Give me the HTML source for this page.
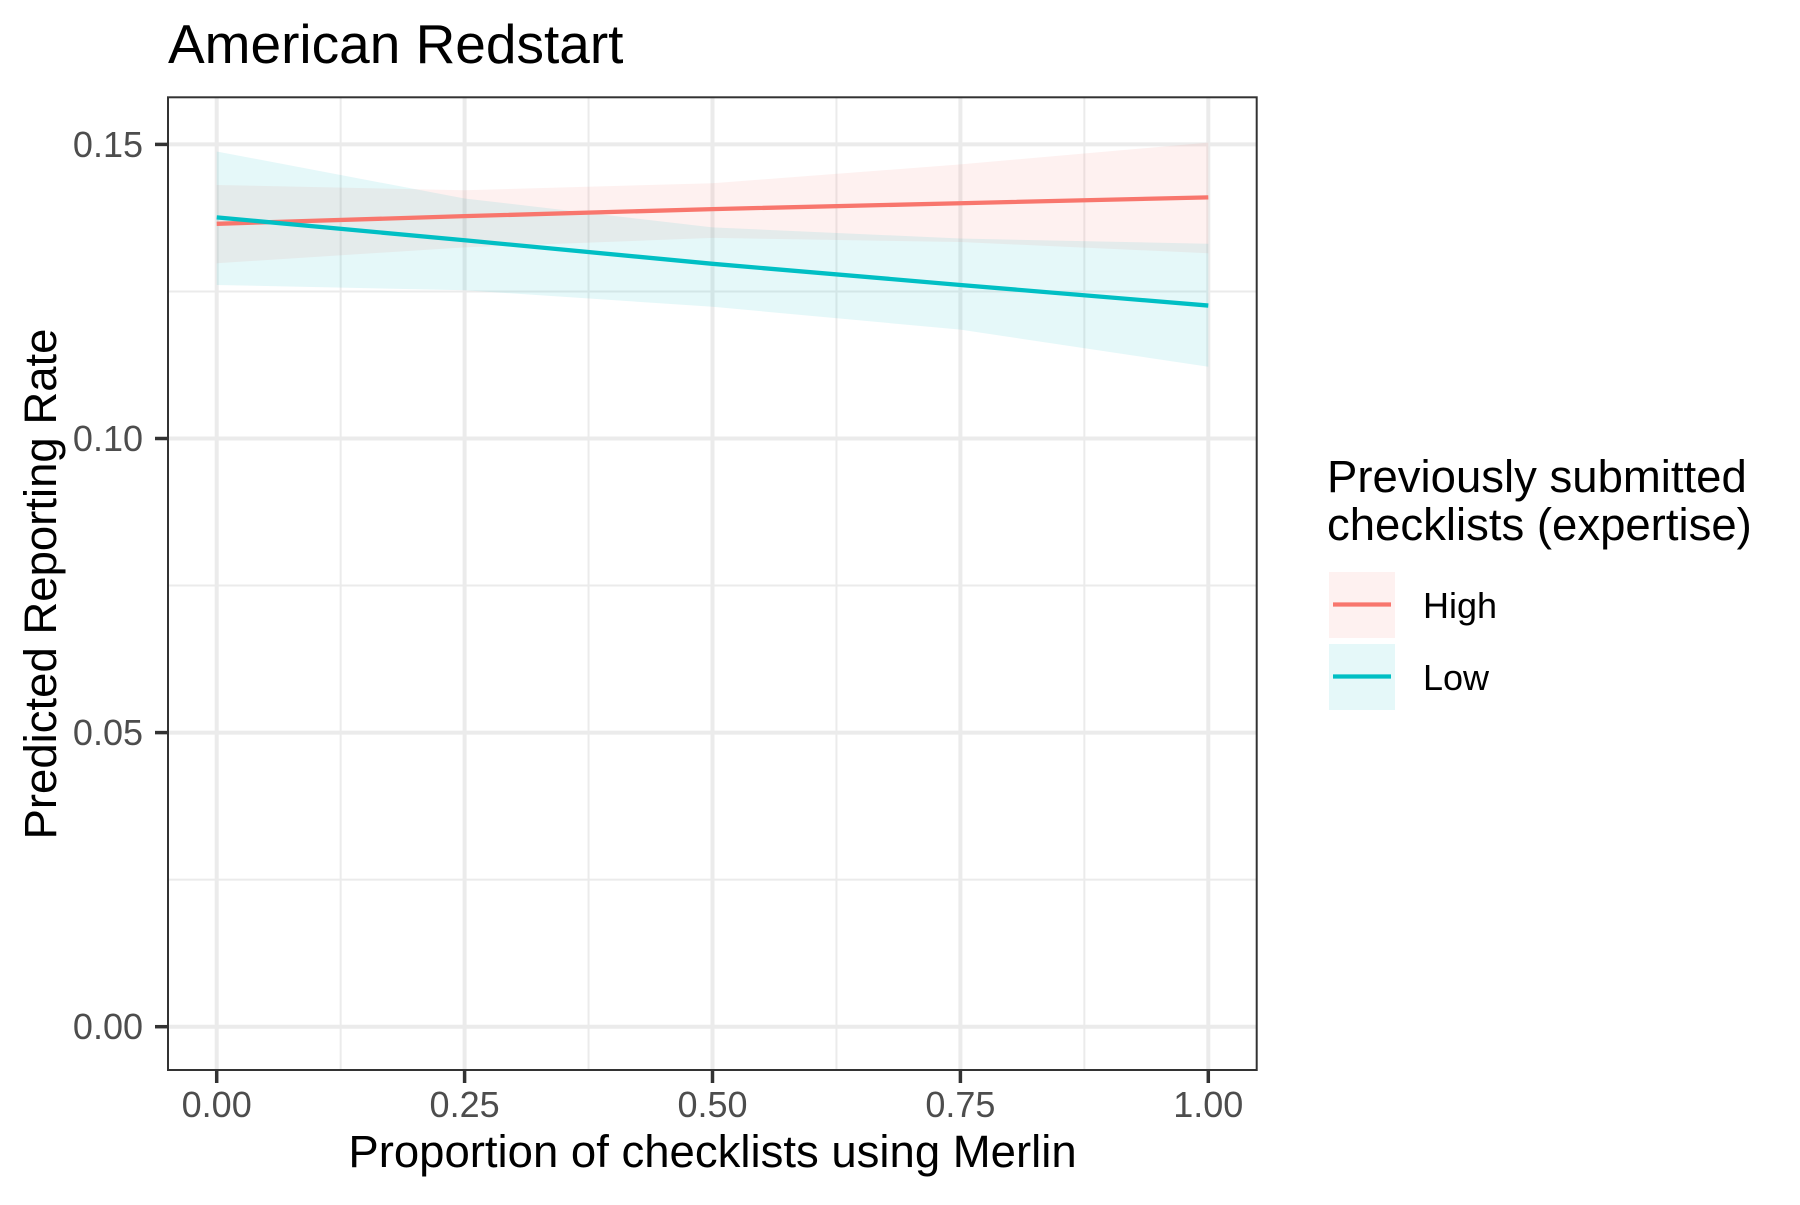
<!DOCTYPE html>
<html><head><meta charset="utf-8"><style>
html,body{margin:0;padding:0;background:#fff;}
svg text{font-family:"Liberation Sans",Arial,sans-serif;}
</style></head><body>
<svg id="chart" width="1800" height="1200" viewBox="0 0 1800 1200" xmlns="http://www.w3.org/2000/svg">
<rect width="1800" height="1200" fill="#fff"/>
<text x="168" y="63" font-size="55" fill="#000">American Redstart</text>
<g id="grid"></g>
<g id="ribbons"></g>
<g id="lines"></g>
<rect x="168" y="97.3" width="1088.7" height="972.7" fill="none" stroke="#333" stroke-width="2"/>
<g id="axes"></g>
<text x="712.5" y="1167" font-size="45.5" text-anchor="middle" fill="#000">Proportion of checklists using Merlin</text>
<text transform="translate(56,584) rotate(-90)" font-size="45.5" text-anchor="middle" fill="#000">Predicted Reporting Rate</text>
<g>
<text x="1327" y="492" font-size="45.5" fill="#000">Previously submitted</text>
<text x="1327" y="540" font-size="45.5" fill="#000">checklists (expertise)</text>
<g>
<rect x="1329" y="572" width="66" height="66" fill="#F8766D" fill-opacity="0.1"/>
<line x1="1333" y1="604.5" x2="1391" y2="604.5" stroke="#F8766D" stroke-width="4.3"/>
<text x="1423" y="618" font-size="36" fill="#000">High</text>
</g>
<g>
<rect x="1329" y="644" width="66" height="66" fill="#00BFC4" fill-opacity="0.1"/>
<line x1="1333" y1="676.5" x2="1391" y2="676.5" stroke="#00BFC4" stroke-width="4.3"/>
<text x="1423" y="690" font-size="36" fill="#000">Low</text>
</g>
</g>
</svg>
<script>
const xValues = [0, 0.25, 0.5, 0.75, 1];
const highFit = [0.1365, 0.1378, 0.1390, 0.1400, 0.1410];
const highUpper = [0.1431, 0.1422, 0.1434, 0.1466, 0.1503];
const highLower = [0.1298, 0.1325, 0.1341, 0.1334, 0.1315];
const lowFit = [0.1376, 0.1337, 0.1297, 0.1261, 0.1226];
const lowUpper = [0.1488, 0.1408, 0.1359, 0.1340, 0.1331];
const lowLower = [0.1261, 0.1252, 0.1224, 0.1185, 0.1122];
const xTicks = [0, 0.25, 0.5, 0.75, 1];
const xTickLabels = ["0.00", "0.25", "0.50", "0.75", "1.00"];
const yTicks = [0, 0.05, 0.10, 0.15];
const yTickLabels = ["0.00", "0.05", "0.10", "0.15"];
const xMinor = [0.125, 0.375, 0.625, 0.875];
const yMinor = [0.025, 0.075, 0.125];

const NS = "http://www.w3.org/2000/svg";
function sx(v){ return 216.7 + v * 991.6; }
function sy(v){ return 1026.7 - v / 0.05 * 294.1; }
function mk(tag, attrs, parent){
  const e = document.createElementNS(NS, tag);
  for (const k in attrs) e.setAttribute(k, attrs[k]);
  parent.appendChild(e);
  return e;
}
const grid = document.getElementById('grid');
const PL = 168, PR = 1256.7, PT = 97.3, PB = 1070;
yMinor.forEach(v => {
  const l = mk('line', {x1: PL, x2: PR, y1: sy(v), y2: sy(v), stroke: '#EBEBEB', 'stroke-width': 2}, grid);
  
  
});
xMinor.forEach(v => {
  const l = mk('line', {x1: sx(v), x2: sx(v), y1: PT, y2: PB, stroke: '#EBEBEB', 'stroke-width': 2}, grid);
  
  
});
yTicks.forEach(v => {
  const l = mk('line', {x1: PL, x2: PR, y1: sy(v), y2: sy(v), stroke: '#EBEBEB', 'stroke-width': 4}, grid);
  
  
});
xTicks.forEach(v => {
  const l = mk('line', {x1: sx(v), x2: sx(v), y1: PT, y2: PB, stroke: '#EBEBEB', 'stroke-width': 4}, grid);
  
  
});

const rib = document.getElementById('ribbons');
function ribbon(up, lo, color, name){
  let d = xValues.map((x, i) => (i ? 'L' : 'M') + sx(x) + ',' + sy(up[i])).join(' ');
  for (let i = xValues.length - 1; i >= 0; i--) d += ' L' + sx(xValues[i]) + ',' + sy(lo[i]);
  const p = mk('path', {d: d + ' Z', fill: color, 'fill-opacity': 0.1}, rib);
  
  
}
ribbon(highUpper, highLower, '#F8766D', 'ribbon-high');
ribbon(lowUpper, lowLower, '#00BFC4', 'ribbon-low');

const lines = document.getElementById('lines');
function line(vals, color, name){
  const pts = xValues.map((x, i) => sx(x) + ',' + sy(vals[i])).join(' ');
  const p = mk('polyline', {points: pts, fill: 'none', stroke: color, 'stroke-width': 4.3}, lines);
  
  
}
line(highFit, '#F8766D', 'line-high');
line(lowFit, '#00BFC4', 'line-low');

const axes = document.getElementById('axes');
yTicks.forEach((v, i) => {
  const t = mk('line', {x1: 155, x2: 168, y1: sy(v), y2: sy(v), stroke: '#333', 'stroke-width': 3.5}, axes);
  
  
  const tx = mk('text', {x: 143, y: sy(v) + 12.5, 'font-size': 36, 'text-anchor': 'end', fill: '#4D4D4D'}, axes);
  tx.textContent = yTickLabels[i];
  
  
});
xTicks.forEach((v, i) => {
  const t = mk('line', {x1: sx(v), x2: sx(v), y1: 1070, y2: 1083, stroke: '#333', 'stroke-width': 3.5}, axes);
  
  
  const tx = mk('text', {x: sx(v), y: 1117, 'font-size': 36, 'text-anchor': 'middle', fill: '#4D4D4D'}, axes);
  tx.textContent = xTickLabels[i];
  
  
});
</script>
</body></html>
